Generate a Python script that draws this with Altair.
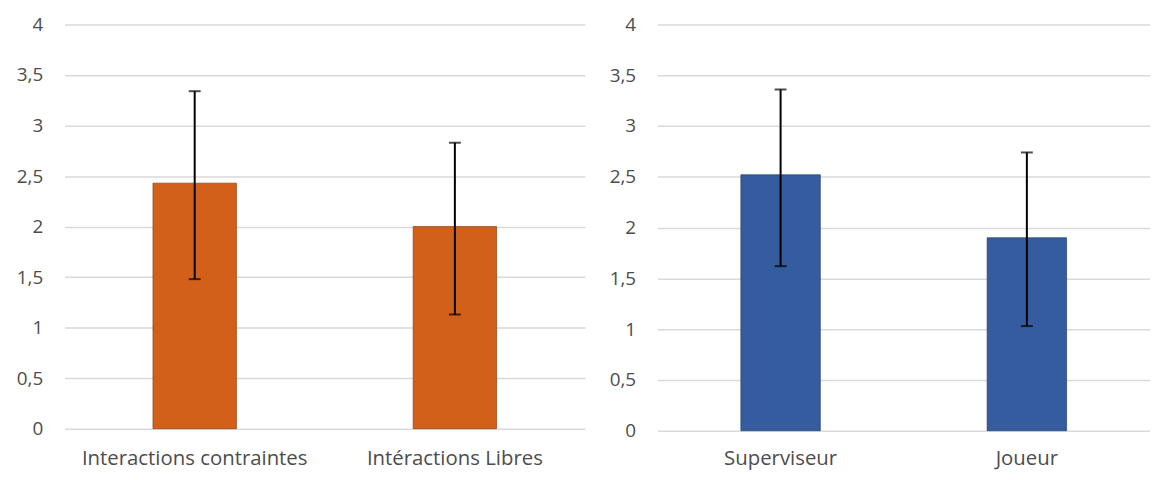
import altair as alt
import pandas as pd

left_cats = ["Interactions contraintes", "Intéractions Libres"]
left_means = [2.43, 2.00]
left_low = [1.48, 1.13]
left_high = [3.34, 2.83]

right_cats = ["Superviseur", "Joueur"]
right_means = [2.52, 1.90]
right_low = [1.62, 1.03]
right_high = [3.36, 2.74]

y_ticks = [0, 0.5, 1, 1.5, 2, 2.5, 3, 3.5, 4]

FONT = "Open Sans"
GREY = "#4D4D4D"


def panel(cats, means, lows, highs, color, stroke, width, height, bar_size, xpad, xrange):
    df = pd.DataFrame({"cat": cats, "mean": means, "low": lows, "high": highs})
    x = alt.X(
        "cat:N",
        sort=cats,
        title=None,
        scale=alt.Scale(paddingInner=0, paddingOuter=0, range=xrange),
        axis=alt.Axis(labelAngle=0, domain=False, ticks=False, labelPadding=xpad,
                      labelLimit=0, labelFontSize=20.5, labelColor=GREY, labelFont=FONT),
    )
    y = alt.Y(
        "mean:Q",
        title=None,
        scale=alt.Scale(domain=[0, 4], nice=False),
        axis=alt.Axis(values=y_ticks, format=".1~f",
                      labelExpr="replace(datum.label, '.', ',')",
                      domain=False, ticks=False, labelPadding=22,
                      minExtent=57, maxExtent=57,
                      labelFontSize=19, labelColor=GREY, labelFont=FONT,
                      grid=True, gridColor="#D9D9D9", gridWidth=1.5),
    )
    base = alt.Chart(df)
    bars = base.mark_bar(color=color, stroke=stroke, strokeWidth=1, strokeOpacity=0.7,
                         size=bar_size).encode(x=x, y=y)
    rule = base.mark_rule(color="black", strokeWidth=2).encode(
        x=alt.X("cat:N", sort=cats), y="low:Q", y2="high:Q")
    cap_hi = base.mark_tick(color="black", thickness=2, size=12).encode(
        x=alt.X("cat:N", sort=cats), y="high:Q")
    cap_lo = base.mark_tick(color="black", thickness=2, size=12).encode(
        x=alt.X("cat:N", sort=cats), y="low:Q")
    return (bars + rule + cap_hi + cap_lo).properties(width=width, height=height)


left = panel(left_cats, left_means, left_low, left_high, "#D2601A", "#8A3F10",
             524, 407, 84, 20, [0, 524])
right = panel(right_cats, right_means, right_low, right_high, "#355C9F", "#22406F",
              488, 409, 80, 18, [0, 496])

chart = alt.hconcat(left, right, spacing=16).configure(
    padding={"left": 0, "top": 6, "right": 0, "bottom": 0}
).configure_view(stroke=None).configure_concat(spacing=16)

chart.save("out.html", embed_options={"renderer": "svg", "actions": False})
